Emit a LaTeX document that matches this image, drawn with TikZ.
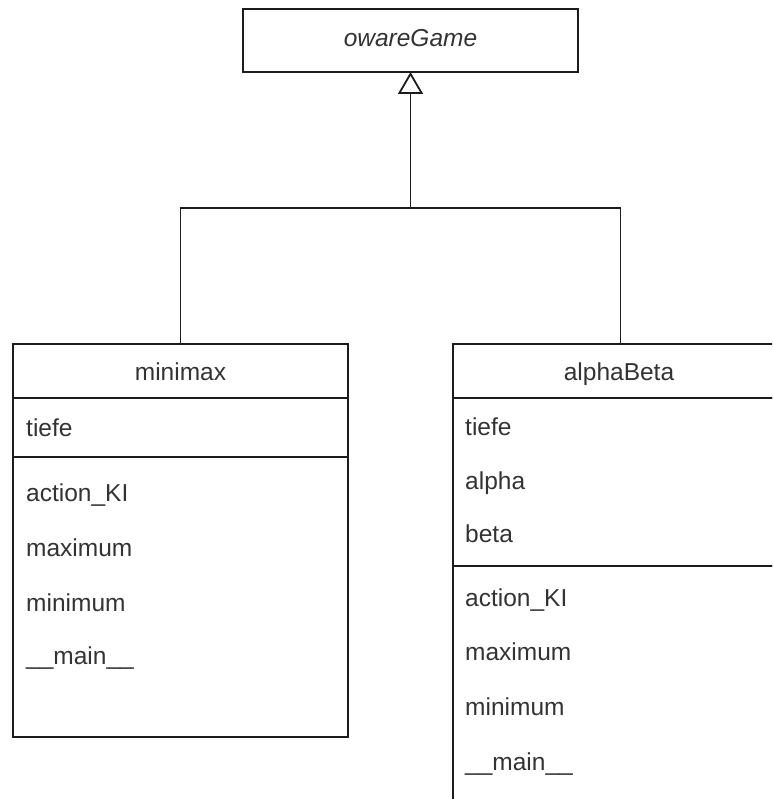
\documentclass[tikz,border=0pt]{standalone}
\usepackage{fontspec}
\setmainfont{Liberation Sans}
\usetikzlibrary{arrows.meta}
\definecolor{ink}{RGB}{28,28,28}
\definecolor{txt}{RGB}{51,51,51}
\tikzset{
  part/.style={draw=ink, line width=1.8pt, fill=white, minimum width=335pt,
    inner sep=0pt, outer sep=0pt},
  label/.style={text=txt, font=\fontsize{24.5}{28}\selectfont, inner sep=0pt},
  member/.style={label, anchor=base west},
  title/.style={label, anchor=base},
  link/.style={draw=ink, line width=1.8pt},
  inherit/.style={link, -{Triangle[open, width=25pt, length=22pt]}}
}
\begin{document}
\begin{tikzpicture}[x=1pt, y=-1pt]
  \useasboundingbox (0,0) rectangle (772,799);
  \clip (0,0) rectangle (772,799);

  % abstract base class
  \node[part, minimum height=63pt] (oware) at (410.5,40.5) {};
  \node[title] (owareT) at (410.5,46.7) {\itshape owareGame};

  % class minimax
  \node[part, minimum height=54pt]  (mmHead) at (180.5,371) {};
  \node[part, minimum height=59pt]  (mmAttr) at (180.5,427.5) {};
  \node[part, minimum height=280pt] (mmOps)  at (180.5,597) {};
  \node[title]  (mmT)  at (180.5,380.7) {minimax};
  \node[member] (mm1) at (26,436) {tiefe};
  \node[member] (mm2) at (26,501.7) {action\_KI};
  \node[member] (mm3) at (26,556.7) {maximum};
  \node[member] (mm4) at (26,611) {minimum};
  \node[member] (mm5) at (26,664) {\_\_main\_\_};

  % class alphaBeta
  \node[part, minimum height=54pt]  (abHead) at (620.5,371) {};
  \node[part, minimum height=168pt] (abAttr) at (620.5,482) {};
  \node[part, minimum height=280pt] (abOps)  at (620.5,706) {};
  \node[title]  (abT) at (619,380.7) {alphaBeta};
  \node[member] (ab1) at (465,435) {tiefe};
  \node[member] (ab2) at (465,489.3) {alpha};
  \node[member] (ab3) at (465,542.7) {beta};
  \node[member] (ab4) at (465,606) {action\_KI};
  \node[member] (ab5) at (465,660) {maximum};
  \node[member] (ab6) at (465,715) {minimum};
  \node[member] (ab7) at (465,770) {\_\_main\_\_};

  % generalisation
  \coordinate (join) at (410.5,208);
  \draw[link] (mmHead.north) |- (join);
  \draw[link] (abHead.north) |- (join);
  \draw[inherit] (join) -- (oware.south);
\end{tikzpicture}
\end{document}
